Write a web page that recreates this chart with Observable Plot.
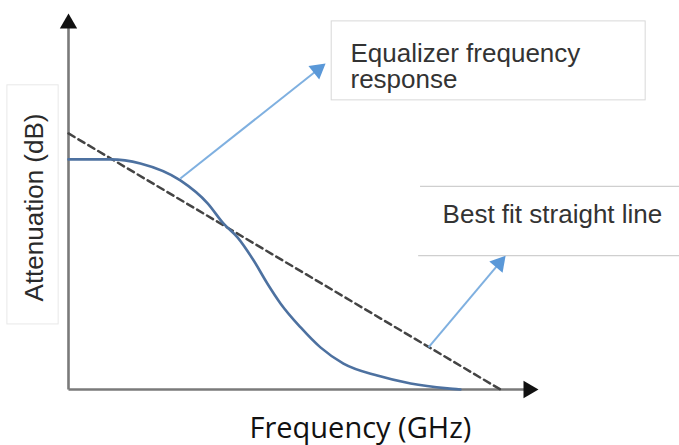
<!DOCTYPE html>
<html><head><meta charset="utf-8">
<script src="https://cdn.jsdelivr.net/npm/d3@7"></script>
<script src="https://cdn.jsdelivr.net/npm/@observablehq/plot@0.6"></script>
<style>body{margin:0;background:#fff} svg{display:block}</style>
</head><body><div id="chart"></div>
<script>
// Equalizer frequency response (schematic, arbitrary units)
const freq  = [0, 0.89, 1.53, 2.38, 2.96, 3.30, 3.60, 3.94, 4.23, 4.51, 4.94, 5.36, 5.85, 6.57, 7.28, 8.06, 8.34];
const atten = [6.12, 6.12, 6.01, 5.56, 4.95, 4.41, 4.04, 3.43, 2.82, 2.29, 1.65, 1.12, 0.69, 0.37, 0.16, 0.03, 0.0];
// Best fit straight line end points
const fitFreq  = [0, 9.19];
const fitAtten = [6.81, 0];
// Axis extents
const axisMax = [10, 10];
// Callout arrows: [x0, y0, x1(tip), y1(tip)]
const callouts = [[2.38, 5.61, 5.47, 8.67], [7.66, 1.12, 9.30, 3.56]];
// Texts
const box1Lines = ["Equalizer frequency", "response"];
const box1Pos = [6.0, 9.19];
const box1Rect = [5.60, 12.28, 7.69, 9.79];
const box2Line = "Best fit straight line";
const box2Pos = [7.96, 4.44];
const box2Rules = [[7.49, 13.0, 5.40], [7.45, 13.0, 3.56]];
const yLabel = "Attenuation (dB)";
const yLabelPos = [-0.72, 4.84];
const yLabelRect = [-1.30, -0.21, 1.73, 8.09];
const xLabel = "Frequency (GHz)";
const xLabelPos = [6.21, -1.28];

const W = 679, H = 445, mL = 68, mR = 141, mT = 13, mB = 56;
const kx = (W - mL - mR) / 10, ky = (H - mT - mB) / 10;
const headLen = 15, headR = headLen / 2.333;
function head(x0, y0, x1, y1) {
  const dxp = (x1 - x0) * kx, dyp = -(y1 - y0) * ky;
  const L = Math.hypot(dxp, dyp), ux = dxp / L, uy = dyp / L;
  const off = headLen * 2 / 3;
  return {x: x1 - ux * off / kx, y: y1 + uy * off / ky, rotate: Math.atan2(dxp, -dyp) * 180 / Math.PI};
}

const curve = freq.map((f, i) => ({f, a: atten[i]}));
const fit = fitFreq.map((f, i) => ({f, a: fitAtten[i]}));
const axisHeads = [head(0, 0, axisMax[0], 0), head(0, 0, 0, axisMax[1])];
const calloutHeads = callouts.map(([x0, y0, x1, y1]) => ({...head(x0, y0, x1, y1), x0, y0}));

const chart = Plot.plot({
  width: W, height: H,
  marginLeft: mL, marginRight: mR, marginTop: mT, marginBottom: mB,
  x: {domain: [0, 10], axis: null},
  y: {domain: [0, 10], axis: null},
  style: {background: "#fff"},
  marks: [
    // y label box
    Plot.rect([yLabelRect], {x1: d => d[0], x2: d => d[1], y1: d => d[2], y2: d => d[3], fill: "#fff", stroke: "#e8e8e8", strokeWidth: 1}),
    Plot.text([yLabel], {x: yLabelPos[0], y: yLabelPos[1], text: d => d, rotate: -90, fontSize: 26, fontFamily: "Liberation Sans, Arial, sans-serif", fill: "#2a2a2a"}),
    // box 1
    Plot.rect([box1Rect], {x1: d => d[0], x2: d => d[1], y1: d => d[2], y2: d => d[3], fill: "#fff", stroke: "#d8d8d8", strokeWidth: 1}),
    Plot.text([box1Lines.join("\n")], {x: box1Pos[0], y: box1Pos[1], text: d => d, textAnchor: "start", lineAnchor: "top", lineHeight: 1.0, fontSize: 26, fontFamily: "Liberation Sans, Arial, sans-serif", fill: "#333"}),
    // box 2
    Plot.ruleY(box2Rules, {x1: d => d[0], x2: d => d[1], y: d => d[2], stroke: "#cfcfcf", strokeWidth: 1.2}),
    Plot.text([box2Line], {x: box2Pos[0], y: box2Pos[1], text: d => d, textAnchor: "start", lineAnchor: "bottom", fontSize: 26, fontFamily: "Liberation Sans, Arial, sans-serif", fill: "#333"}),
    // axes
    Plot.link(axisHeads, {x1: 0, y1: 0, x2: d => d.x, y2: d => d.y, stroke: "#7a7a7a", strokeWidth: 2.6}),
    Plot.dot(axisHeads, {x: "x", y: "y", rotate: "rotate", r: headR, symbol: "triangle", fill: "#111", stroke: "none"}),
    // curves
    Plot.line(fit, {x: "f", y: "a", stroke: "#444", strokeWidth: 2.5, strokeDasharray: "7,4.5"}),
    Plot.line(curve, {x: "f", y: "a", curve: "monotone-x", stroke: "#4d71a0", strokeWidth: 2.6}),
    // callouts
    Plot.link(calloutHeads, {x1: "x0", y1: "y0", x2: "x", y2: "y", stroke: "#7fb0e0", strokeWidth: 2}),
    Plot.dot(calloutHeads, {x: "x", y: "y", rotate: "rotate", r: headR, symbol: "triangle", fill: "#5a98d8", stroke: "none"}),
    // x label
    Plot.text([xLabel], {x: xLabelPos[0], y: xLabelPos[1], text: d => d, lineAnchor: "bottom", fontSize: 29, fontFamily: "Open Sans, sans-serif", fill: "#111"})
  ]
});
document.getElementById("chart").append(chart);
</script>
</body></html>
